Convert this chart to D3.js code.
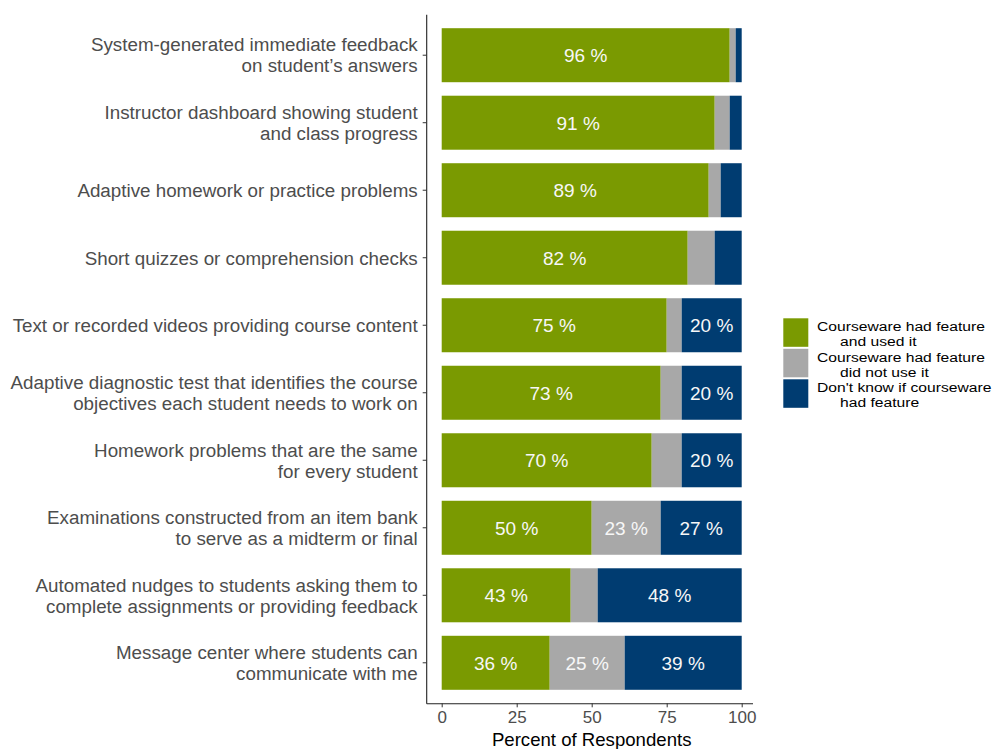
<!DOCTYPE html>
<html>
<head>
<meta charset="utf-8">
<script src="https://cdn.jsdelivr.net/npm/d3@7/dist/d3.min.js"></script>
<style>
  html, body { margin: 0; padding: 0; background: #fff; }
  svg { display: block; font-family: "Liberation Sans", Arial, sans-serif; }
</style>
</head>
<body>
<svg id="chart" width="992" height="749"></svg>
<script>
// Course feature categories (each entry split into display lines)
const categories = [
  ["System-generated immediate feedback", "on student\u2019s answers"],
  ["Instructor dashboard showing student", "and class progress"],
  ["Adaptive homework or practice problems"],
  ["Short quizzes or comprehension checks"],
  ["Text or recorded videos providing course content"],
  ["Adaptive diagnostic test that identifies the course", "objectives each student needs to work on"],
  ["Homework problems that are the same", "for every student"],
  ["Examinations constructed from an item bank", "to serve as a midterm or final"],
  ["Automated nudges to students asking them to", "complete assignments or providing feedback"],
  ["Message center where students can", "communicate with me"]
];

// Percent of respondents per response
const usedFeature = [96, 91, 89, 82, 75, 73, 70, 50, 43, 36];
const didNotUse   = [ 2,  5,  4,  9,  5,  7, 10, 23,  9, 25];
const dontKnow    = [ 2,  4,  7,  9, 20, 20, 20, 27, 48, 39];

const seriesNames = [
  ["Courseware had feature", "and used it"],
  ["Courseware had feature", "did not use it"],
  ["Don't know if courseware", "had feature"]
];
const seriesColors = ["#7a9a01", "#a8a8a8", "#003c71"];
const xTicks = [0, 25, 50, 75, 100];

const svg = d3.select("#chart");

const plotTop = 14.7, plotBottom = 703.3, yAxisX = 426.7;

const x = d3.scaleLinear().domain([-5, 105]).range([yAxisX, 756.7]);
const y = d3.scaleBand()
  .domain(d3.range(categories.length))
  .range([plotTop, plotBottom])
  .paddingInner(0.2)
  .paddingOuter(0.2);

const rows = categories.map((c, i) => ({
  i, used: usedFeature[i], notUsed: didNotUse[i], dk: dontKnow[i]
}));
const stack = d3.stack().keys(["used", "notUsed", "dk"])(rows);

const g = svg.append("g");

stack.forEach((layer, k) => {
  g.append("g").selectAll("rect").data(layer).join("rect")
    .attr("x", d => x(d[0]))
    .attr("width", d => x(d[1]) - x(d[0]))
    .attr("y", d => y(d.data.i))
    .attr("height", y.bandwidth())
    .attr("fill", seriesColors[k]);

  // value labels for the wider segments
  g.append("g").selectAll("text").data(layer.filter(d => d[1] - d[0] >= 15)).join("text")
    .attr("x", d => x((d[0] + d[1]) / 2))
    .attr("y", d => y(d.data.i) + y.bandwidth() / 2)
    .attr("dy", "0.36em")
    .attr("text-anchor", "middle")
    .attr("font-size", 19)
    .attr("fill", "#f7f7f7")
    .text(d => (d[1] - d[0]) + " %");
});

// Y axis
svg.append("line")
  .attr("x1", yAxisX).attr("x2", yAxisX)
  .attr("y1", plotTop).attr("y2", plotBottom + 0.5)
  .attr("stroke", "#222").attr("stroke-width", 1.1);

const yt = svg.append("g");
categories.forEach((lines, i) => {
  const cy = y(i) + y.bandwidth() / 2;
  yt.append("line")
    .attr("x1", yAxisX - 4).attr("x2", yAxisX)
    .attr("y1", cy).attr("y2", cy)
    .attr("stroke", "#333");
  const lh = 21;
  const t = yt.append("text")
    .attr("text-anchor", "end")
    .attr("font-size", 18.8)
    .attr("fill", "#4d4d4d");
  lines.forEach((ln, j) => {
    t.append("tspan")
      .attr("x", yAxisX - 9)
      .attr("y", cy + (j - (lines.length - 1) / 2) * lh)
      .attr("dy", "0.36em")
      .text(ln);
  });
});

// X axis
svg.append("g")
  .attr("transform", `translate(0,${plotBottom})`)
  .call(d3.axisBottom(x).tickValues(xTicks).tickSize(4).tickPadding(4).tickFormat(d3.format("d")))
  .call(a => a.select(".domain").attr("d", `M${yAxisX},0.5H753`).attr("stroke", "#222").attr("stroke-width", 1.1))
  .call(a => a.selectAll(".tick line").attr("stroke", "#333"))
  .call(a => a.selectAll(".tick text")
    .attr("font-size", 17).attr("fill", "#4d4d4d")
    .attr("font-family", "Liberation Sans, Arial, sans-serif"));

svg.append("text")
  .attr("x", x(50)).attr("y", 746)
  .attr("text-anchor", "middle")
  .attr("font-size", 18.6)
  .attr("fill", "#000")
  .text("Percent of Respondents");

// Legend: compact two-line labels, widened slightly
const legend = svg.append("g");
const lineStep = 15.25;
seriesNames.forEach((lines, k) => {
  const top = 318.3 + k * 30.5;
  legend.append("rect")
    .attr("x", 783.3).attr("y", top)
    .attr("width", 25).attr("height", 28.5)
    .attr("fill", seriesColors[k]);
  lines.forEach((ln, j) => {
    const tx = j === 0 ? 817 : 840;
    legend.append("text")
      .attr("transform", `translate(${tx},${top + 12.7 + j * lineStep}) scale(1.16,1)`)
      .attr("font-size", 13.5)
      .attr("fill", "#000")
      .text(ln);
  });
});
</script>
</body>
</html>
